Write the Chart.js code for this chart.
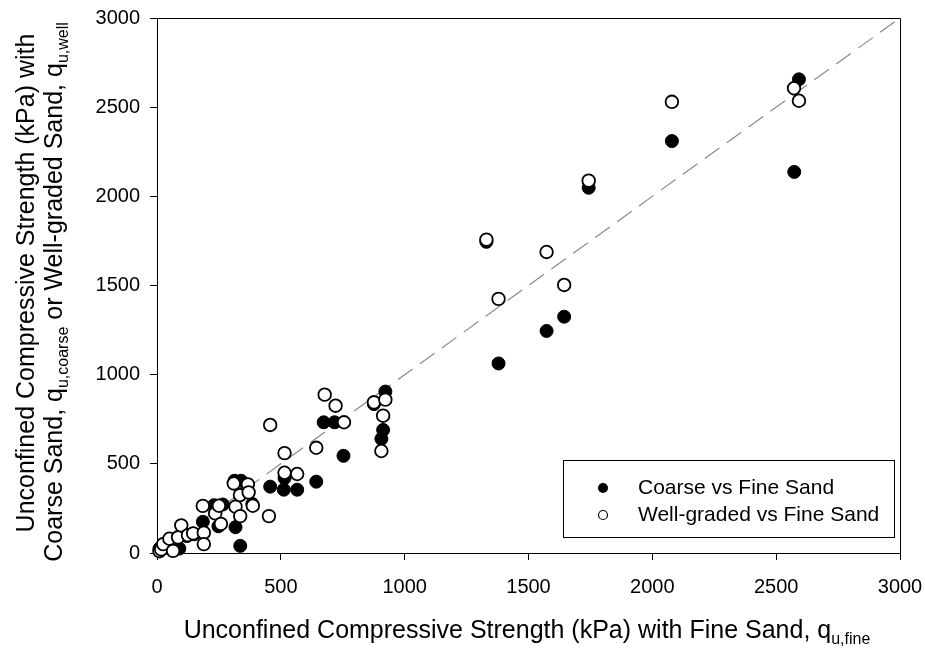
<!DOCTYPE html>
<html>
<head>
<meta charset="utf-8">
<script src="https://cdn.jsdelivr.net/npm/chart.js@4.4.0/dist/chart.umd.min.js"></script>
<style>
  html, body { margin: 0; padding: 0; background: #fff; }
</style>
</head>
<body>
<canvas id="sandChart" width="925" height="648"></canvas>
<script>
// qu with fine sand (x) against qu with coarse sand (y), kPa
var coarseX = [10, 45, 90, 120, 150, 185, 230, 248, 266, 317, 313, 340, 336, 385, 457, 512, 566, 515, 643, 673, 717, 753, 876, 922, 913, 906, 1330, 1379, 1573, 1644, 1743, 2079, 2592, 2573];
var coarseY = [25, 30, 25, 95, 105, 175, 268, 150, 272, 145, 405, 405, 40, 275, 372, 355, 355, 420, 400, 733, 733, 545, 835, 905, 690, 640, 1745, 1063, 1245, 1325, 2048, 2310, 2656, 2137];

// qu with fine sand (x) against qu with well-graded sand (y), kPa
var wellX = [10, 17, 25, 50, 65, 85, 98, 125, 146, 189, 189, 185, 235, 250, 258, 317, 336, 310, 367, 335, 370, 387, 452, 457, 515, 515, 566, 643, 677, 721, 755, 876, 922, 913, 906, 1330, 1379, 1573, 1644, 1743, 2079, 2572, 2592];
var wellY = [10, 20, 50, 80, 12, 88, 155, 100, 110, 114, 50, 264, 222, 265, 163, 260, 207, 390, 385, 325, 340, 265, 207, 718, 450, 560, 443, 590, 888, 826, 733, 845, 860, 770, 572, 1757, 1425, 1688, 1503, 2088, 2530, 2606, 2536];

// 1:1 line
var lineX = [0, 3000];
var lineY = [0, 3000];

var seriesNames = ['Coarse vs Fine Sand', 'Well-graded vs Fine Sand'];
var axisMin = 0, axisMax = 3000, axisStep = 500;

function pairs(xs, ys) {
  return xs.map(function (x, i) { return { x: x, y: ys[i] }; });
}

var FONT = 'Arial, "Liberation Sans", sans-serif';

// text with lowered small parts, e.g. q + "u,fine"
function mixedWidth(ctx, parts) {
  var w = 0;
  parts.forEach(function (p) {
    ctx.font = (p.sub ? '16px ' : '25px ') + FONT;
    w += ctx.measureText(p.t).width;
  });
  return w;
}
function drawMixed(ctx, parts, cx, baseY) {
  var x = cx - mixedWidth(ctx, parts) / 2;
  ctx.textAlign = 'left';
  ctx.textBaseline = 'alphabetic';
  parts.forEach(function (p) {
    ctx.font = (p.sub ? '16px ' : '25px ') + FONT;
    ctx.fillText(p.t, x, baseY + (p.sub ? 6 : 0));
    x += ctx.measureText(p.t).width;
  });
}

var extras = {
  id: 'extras',
  afterDraw: function (chart) {
    var ctx = chart.ctx, a = chart.chartArea;
    ctx.save();
    ctx.fillStyle = '#000';
    ctx.strokeStyle = '#000';
    ctx.lineWidth = 1;

    // top and right frame
    ctx.beginPath();
    ctx.moveTo(Math.round(a.left) + 0.5, Math.round(a.top) + 0.5);
    ctx.lineTo(Math.round(a.right) + 0.5, Math.round(a.top) + 0.5);
    ctx.lineTo(Math.round(a.right) + 0.5, Math.round(a.bottom) + 0.5);
    ctx.stroke();

    // x title
    drawMixed(ctx, [
      { t: 'Unconfined Compressive Strength (kPa) with Fine Sand, q' },
      { t: 'u,fine', sub: true }
    ], 527, 638);

    // y title, two lines
    ctx.save();
    ctx.rotate(-Math.PI / 2);
    drawMixed(ctx, [{ t: 'Unconfined Compressive Strength (kPa) with' }], -283, 34);
    drawMixed(ctx, [
      { t: 'Coarse Sand, q' }, { t: 'u,coarse', sub: true },
      { t: ' or Well-graded Sand, q' }, { t: 'u,well', sub: true }
    ], -292, 62);
    ctx.restore();

    // legend
    var lx = 563, ly = 460, lw = 331, lh = 77;
    ctx.fillStyle = '#fff';
    ctx.fillRect(lx, ly, lw, lh);
    ctx.strokeRect(lx + 0.5, ly + 0.5, lw, lh);
    ctx.font = '21px ' + FONT;
    ctx.textAlign = 'left';
    ctx.textBaseline = 'middle';
    var rows = [488, 515];
    ctx.beginPath();
    ctx.arc(603, rows[0], 5, 0, Math.PI * 2);
    ctx.fillStyle = '#000';
    ctx.fill();
    ctx.beginPath();
    ctx.arc(603, rows[1], 4.5, 0, Math.PI * 2);
    ctx.fillStyle = '#fff';
    ctx.fill();
    ctx.lineWidth = 1.2;
    ctx.stroke();
    ctx.fillStyle = '#000';
    ctx.fillText(seriesNames[0], 638, rows[0]);
    ctx.fillText(seriesNames[1], 638, rows[1]);
    ctx.restore();
  }
};

function plainTick(v) { return String(v); }

var ctx = document.getElementById('sandChart').getContext('2d');
var sandChart = new Chart(ctx, {
  type: 'scatter',
  data: {
    datasets: [{
      label: seriesNames[0],
      data: pairs(coarseX, coarseY),
      backgroundColor: '#000',
      borderColor: '#000',
      borderWidth: 1,
      pointRadius: 6.5,
      clip: false,
      order: 2
    }, {
      label: seriesNames[1],
      data: pairs(wellX, wellY),
      backgroundColor: '#fff',
      borderColor: '#000',
      borderWidth: 1.8,
      pointRadius: 6.3,
      clip: false,
      order: 1
    }, {
      type: 'line',
      label: '1:1',
      data: pairs(lineX, lineY),
      borderColor: '#8a8a8a',
      borderWidth: 1.2,
      borderDash: [18, 9],
      pointRadius: 0,
      fill: false,
      order: 3
    }]
  },
  options: {
    responsive: false,
    animation: false,
    layout: { padding: { left: 0, right: 25, top: 18, bottom: 0 } },
    plugins: { legend: { display: false }, tooltip: { enabled: false } },
    scales: {
      x: {
        type: 'linear',
        min: axisMin, max: axisMax,
        ticks: { stepSize: axisStep, color: '#000', font: { family: FONT, size: 20 }, padding: 15, maxRotation: 0, callback: plainTick },
        grid: { drawOnChartArea: false, drawTicks: true, tickLength: 7, color: '#000' },
        border: { color: '#000', width: 1 },
        afterFit: function (s) { s.height = 95; s.paddingLeft = 0; s.paddingRight = 0; }
      },
      y: {
        type: 'linear',
        min: axisMin, max: axisMax,
        ticks: { stepSize: axisStep, color: '#000', font: { family: FONT, size: 20 }, padding: 10, callback: plainTick },
        grid: { drawOnChartArea: false, drawTicks: true, tickLength: 7, color: '#000' },
        border: { color: '#000', width: 1 },
        afterFit: function (s) { s.width = 157; s.paddingTop = 0; s.paddingBottom = 0; }
      }
    }
  },
  plugins: [extras]
});
</script>
</body>
</html>
